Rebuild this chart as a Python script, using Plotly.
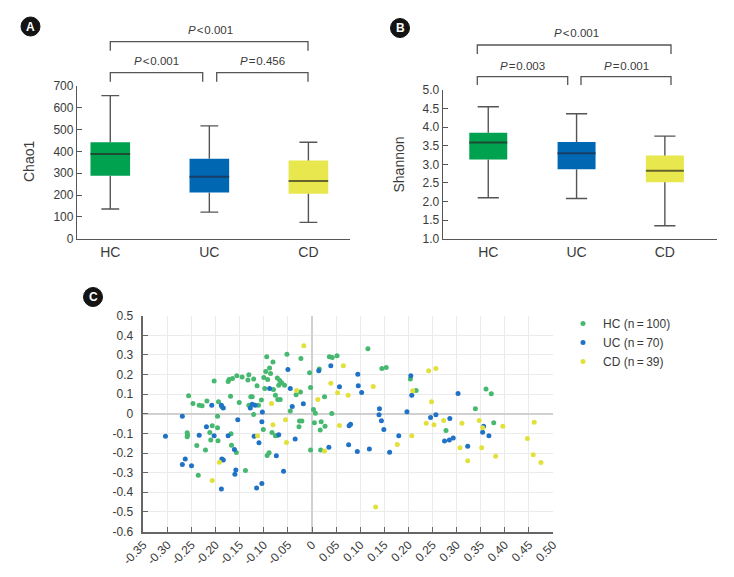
import plotly.graph_objects as go

W, H = 734, 577

# ---------------- data ----------------
groups = ["HC", "UC", "CD"]

# Panel A: Chao1 box statistics
chao_lower = [136, 122, 75]
chao_q1 = [289, 212, 206]
chao_median = [388, 284, 264]
chao_q3 = [442, 367, 359]
chao_upper = [656, 517, 442]

# Panel B: Shannon box statistics
shan_lower = [2.10, 2.08, 1.35]
shan_q1 = [3.13, 2.87, 2.52]
shan_median = [3.59, 3.30, 2.83]
shan_q3 = [3.85, 3.60, 3.24]
shan_upper = [4.55, 4.36, 3.76]

p_chao = ["P<0.001", "P<0.001", "P=0.456"]      # top, left, right
p_shan = ["P<0.001", "P=0.003", "P=0.001"]

# Panel C: PCoA scatter
hc_x = [-0.256, -0.247, -0.234, -0.228, -0.218, -0.203, -0.194, -0.196, -0.187, -0.172,
        -0.174, -0.169, -0.165, -0.156, -0.145, -0.131, -0.133, -0.121, -0.127, -0.124,
        -0.131, -0.121, -0.114, -0.105, -0.100, -0.098, -0.094, -0.096, -0.092, -0.088,
        -0.086, -0.081, -0.080, -0.076, -0.072, -0.069, -0.067, -0.063, -0.071, -0.066,
        -0.057, -0.052, -0.045, -0.033, -0.024, -0.023, -0.026, -0.021, -0.027, -0.005,
        -0.003, 0.003, 0.007, 0.015, 0.019, 0.017, 0.027, 0.018, -0.003, 0.026,
        0.036, 0.042, 0.052, 0.041, -0.093, -0.089, -0.083, -0.076, -0.072, -0.101,
        -0.259, -0.259, -0.258, -0.239, -0.236, -0.221, -0.212, -0.207, -0.196, -0.210,
        -0.195, -0.168, -0.167, -0.157, -0.138, 0.116, 0.145, 0.154, 0.204, 0.216,
        0.339, 0.361, 0.372, 0.377, 0.278, 0.005, -0.151, -0.111]
hc_y = [0.092, 0.053, 0.043, 0.041, 0.065, 0.167, 0.061, -0.012, 0.036, 0.175,
        0.165, 0.090, 0.180, 0.194, 0.187, 0.199, 0.172, 0.177, 0.087, 0.087,
        0.044, -0.003, 0.143, 0.070, 0.185, 0.129, 0.291, 0.216, 0.175, 0.233,
        0.206, 0.264, 0.124, 0.094, 0.182, 0.145, 0.170, 0.158, 0.073, 0.073,
        0.145, 0.304, 0.014, 0.097, 0.111, 0.282, -0.037, -0.037, -0.066, 0.209,
        0.134, 0.022, 0.003, 0.228, -0.041, -0.082, -0.063, -0.185, -0.185, 0.087,
        0.291, 0.287, 0.296, 0.002, -0.213, -0.199, -0.095, -0.112, -0.111, -0.080,
        -0.097, -0.117, -0.108, -0.162, -0.313, -0.184, -0.095, -0.061, -0.071, -0.134,
        -0.138, -0.102, -0.160, -0.197, -0.289, 0.332, 0.231, 0.236, 0.177, 0.119,
        0.026, 0.126, 0.102, -0.046, -0.085, -0.046, 0.058, 0.044]

uc_x = [-0.304, -0.269, -0.263, -0.269, -0.250, -0.234, -0.208, -0.188, -0.184, -0.219,
        -0.203, -0.174, -0.154, -0.161, -0.187, -0.184, -0.158, -0.160, -0.188, -0.128,
        -0.124, -0.118, -0.103, -0.104, -0.120, -0.110, -0.074, -0.088, -0.069, -0.050,
        -0.045, -0.041, -0.018, -0.035, -0.059, 0.039, 0.014, 0.057, 0.077, 0.076,
        -0.115, -0.104, 0.080, 0.095, 0.096, 0.103, 0.140, 0.139, 0.144, 0.149,
        0.094, 0.119, 0.161, 0.180, 0.205, 0.207, 0.197, 0.246, 0.257, 0.286,
        0.303, 0.275, 0.285, 0.293, 0.323, 0.356, 0.354, 0.367, 0.035]
uc_y = [-0.114, -0.012, -0.230, -0.259, -0.265, -0.109, 0.043, 0.043, 0.029, -0.066,
        -0.112, -0.112, -0.031, -0.182, -0.231, -0.236, -0.287, -0.308, -0.383, 0.029,
        0.049, 0.044, 0.009, -0.041, -0.114, -0.148, -0.214, 0.129, -0.107, 0.226,
        0.129, 0.037, 0.051, -0.128, -0.293, 0.245, 0.220, 0.138, -0.061, -0.158,
        -0.378, -0.355, -0.053, 0.201, 0.143, 0.109, 0.026, -0.005, -0.036, -0.080,
        -0.192, -0.180, -0.196, -0.112, 0.194, 0.095, 0.010, -0.019, -0.005, -0.024,
        0.104, -0.139, -0.133, -0.124, -0.165, -0.063, -0.094, -0.112, -0.170]

cd_x = [-0.017, -0.032, -0.084, -0.081, -0.055, -0.053, -0.113, -0.192, -0.207, 0.012,
        0.039, 0.065, 0.053, 0.075, 0.057, 0.026, 0.132, 0.127, 0.209, 0.242,
        0.257, 0.248, 0.207, 0.177, 0.237, 0.253, 0.273, 0.311, 0.347, 0.354,
        0.396, 0.461, 0.307, 0.323, 0.352, 0.381, 0.447, 0.459, 0.475]
cd_y = [0.347, 0.119, 0.053, -0.056, -0.031, -0.146, -0.112, -0.247, -0.340, 0.073,
        0.156, 0.245, 0.107, 0.094, -0.060, -0.190, -0.475, 0.139, 0.117, 0.219,
        0.231, 0.061, -0.112, -0.156, -0.048, -0.056, -0.034, -0.048, -0.034, -0.071,
        -0.063, -0.043, -0.173, -0.240, -0.173, -0.216, -0.126, -0.209, -0.248]

legend_names = ["HC (n\u2009=\u2009100)", "UC (n\u2009=\u200970)", "CD (n\u2009=\u200939)"]

x_ticks_c = [-0.35, -0.30, -0.25, -0.20, -0.15, -0.10, -0.05, 0, 0.05, 0.10,
             0.15, 0.20, 0.25, 0.30, 0.35, 0.40, 0.45, 0.50]
x_ticktext_c = ["-0.35", "-0.30", "-0.25", "-0.20", "-0.15", "-0.10", "-0.05", "0", "0.05", "0.10",
                "0.15", "0.20", "0.25", "0.30", "0.35", "0.40", "0.45", "0.50"]
y_ticks_c = [0.5, 0.4, 0.3, 0.2, 0.1, 0, -0.1, -0.2, -0.3, -0.4, -0.5, -0.6]
y_ticktext_c = ["0.5", "0.4", "0.3", "0.2", "0.1", "0", "-0.1", "-0.2", "-0.3", "-0.4", "-0.5", "-0.6"]

# ---------------- styles ----------------
box_fill = ["#00a14f", "#0067b2", "#e8e74d"]
median_col = ["#1f4a33", "#183e66", "#66652c"]
dot_col = ["#46b86f", "#1f72c6", "#e2e13c"]
NARROW = "Liberation Sans Narrow, Arial Narrow, Liberation Sans, Arial, sans-serif"
REG = "Liberation Sans, Arial, sans-serif"
AX = "#555555"
TXT = "#3a3a3a"


def X(px):
    return px / W


def Y(py):
    return 1 - py / H


fig = go.Figure()


def add_boxes(xa, ya, lower, q1, med, q3, upper, bw, cap):
    idx = list(range(len(groups)))
    fig.add_trace(go.Bar(x=idx, base=q1, y=[b - a for a, b in zip(q1, q3)], width=bw,
                         marker=dict(color=box_fill, line=dict(width=0)),
                         xaxis=xa, yaxis=ya, showlegend=False, hoverinfo="skip"))
    wx, wy = [], []
    for i in idx:
        wx += [i, i, None, i, i, None, i - cap, i + cap, None, i - cap, i + cap, None]
        wy += [lower[i], q1[i], None, q3[i], upper[i], None,
               lower[i], lower[i], None, upper[i], upper[i], None]
    fig.add_trace(go.Scatter(x=wx, y=wy, mode="lines", line=dict(color=AX, width=1.4),
                             xaxis=xa, yaxis=ya, showlegend=False, hoverinfo="skip"))
    for i in idx:
        fig.add_trace(go.Scatter(x=[i - bw / 2, i + bw / 2], y=[med[i], med[i]], mode="lines",
                                 line=dict(color=median_col[i], width=2),
                                 xaxis=xa, yaxis=ya, showlegend=False, hoverinfo="skip"))


add_boxes("x", "y", chao_lower, chao_q1, chao_median, chao_q3, chao_upper, 0.40, 0.09)
add_boxes("x2", "y2", shan_lower, shan_q1, shan_median, shan_q3, shan_upper, 0.43, 0.12)

for xs, ys, name, c in zip([hc_x, uc_x, cd_x], [hc_y, uc_y, cd_y], legend_names, dot_col):
    fig.add_trace(go.Scatter(x=xs, y=ys, mode="markers", name=name,
                             marker=dict(color=c, size=5, line=dict(width=0)),
                             xaxis="x3", yaxis="y3"))

# ---------------- axes ----------------
cat_axis = dict(tickvals=[0, 1, 2], ticktext=groups, showline=True, linecolor=AX, linewidth=1.3,
                ticks="", showgrid=False, zeroline=False, automargin=False,
                tickfont=dict(family=NARROW, size=14, color=TXT))
val_axis = dict(showline=True, linecolor=AX, linewidth=1.3, ticks="inside", ticklen=5,
                tickcolor=AX, tickwidth=1.3, showgrid=False, zeroline=False, automargin=False,
                tickfont=dict(family=NARROW, size=12, color=TXT))

fig.update_layout(
    xaxis=dict(cat_axis, domain=[X(77), X(350)], range=[-0.336, 2.42], anchor="y"),
    yaxis=dict(val_axis, domain=[Y(238.7), Y(86)], range=[0, 700], dtick=100, anchor="x"),
    xaxis2=dict(cat_axis, domain=[X(442.7), X(716.7)], range=[-0.516, 2.587], anchor="y2"),
    yaxis2=dict(val_axis, domain=[Y(238.7), Y(90)], range=[1, 5], dtick=0.5, tickformat=".1f",
                anchor="x2"),
    xaxis3=dict(domain=[X(143.3), X(553)], range=[-0.35, 0.5], anchor="y3", automargin=False,
                tickvals=x_ticks_c, ticktext=x_ticktext_c, tickangle=-45,
                showgrid=True, gridcolor="#ebebeb", gridwidth=1,
                zeroline=True, zerolinecolor="#d0d0d0", zerolinewidth=2,
                showline=True, linecolor="#666666", linewidth=1.5,
                ticks="inside", ticklen=5, tickcolor="#666666",
                tickfont=dict(family=REG, size=12, color=TXT)),
    yaxis3=dict(domain=[Y(531.5), Y(315.7)], range=[-0.6, 0.5], anchor="x3", automargin=False,
                tickvals=y_ticks_c, ticktext=y_ticktext_c,
                showgrid=True, gridcolor="#ebebeb", gridwidth=1,
                zeroline=True, zerolinecolor="#d0d0d0", zerolinewidth=2,
                showline=True, linecolor="#666666", linewidth=1.5,
                ticks="inside", ticklen=5, tickcolor="#666666", ticklabelstandoff=6,
                tickfont=dict(family=REG, size=12, color=TXT)),
    width=W, height=H, margin=dict(l=0, r=0, t=0, b=0, autoexpand=False),
    paper_bgcolor="white", plot_bgcolor="white",
    font=dict(family=REG, color=TXT),
    showlegend=True,
    legend=dict(x=X(563), y=Y(309), xanchor="left", yanchor="top",
                bgcolor="rgba(0,0,0,0)", font=dict(family=REG, size=12, color=TXT),
                tracegroupgap=0, itemwidth=30),
)

# ---------------- annotations / brackets ----------------
shapes, annots = [], []


def bracket(x0, x1, ytop, ybot):
    shapes.append(dict(type="path", xref="paper", yref="paper",
                       path=f"M {X(x0)},{Y(ybot)} L {X(x0)},{Y(ytop)} L {X(x1)},{Y(ytop)} L {X(x1)},{Y(ybot)}",
                       line=dict(color=AX, width=1.3)))


def ptext(txt, x, y):
    t = txt.replace("P", "<i>P</i>").replace("<0", "\u200a&lt;\u200a0").replace("=", "\u200a=\u200a")
    annots.append(dict(text=t, x=X(x), y=Y(y), xref="paper", yref="paper", showarrow=False,
                       xanchor="center", yanchor="middle",
                       font=dict(family=NARROW, size=11.5, color=TXT)))


# panel A
bracket(110.3, 308, 41.7, 50.7)
bracket(110.3, 202.7, 72.7, 81.7)
bracket(216.7, 308, 72.7, 81.7)
ptext(p_chao[0], 210, 29.5)
ptext(p_chao[1], 156.7, 61.5)
ptext(p_chao[2], 262.3, 61.5)
# panel B
bracket(477.3, 671, 45, 54)
bracket(477.3, 567.7, 76.7, 85)
bracket(581, 671, 76.7, 85)
ptext(p_shan[0], 576, 33)
ptext(p_shan[1], 522.3, 65.5)
ptext(p_shan[2], 626.7, 65.5)

# axis titles
annots.append(dict(text="Chao1", x=X(29), y=Y(162), xref="paper", yref="paper", showarrow=False,
                   xanchor="center", yanchor="middle",
                   textangle=-90, font=dict(family=NARROW, size=14, color=TXT)))
annots.append(dict(text="Shannon", x=X(398.5), y=Y(165), xref="paper", yref="paper", showarrow=False,
                   xanchor="center", yanchor="middle",
                   textangle=-90, font=dict(family=NARROW, size=14, color=TXT)))

# panel badges
for letter, cx, cy in [("A", 30.5, 26.5), ("B", 400, 28), ("C", 93, 297)]:
    r = 9.5
    shapes.append(dict(type="circle", xref="paper", yref="paper",
                       x0=X(cx - r), x1=X(cx + r), y0=Y(cy + r), y1=Y(cy - r),
                       fillcolor="#141414", line=dict(color="#141414", width=1)))
    annots.append(dict(text=f"<b>{letter}</b>", x=X(cx), y=Y(cy), xref="paper", yref="paper",
                       showarrow=False, xanchor="center", yanchor="middle",
                       font=dict(family=REG, size=12, color="white")))

fig.update_layout(shapes=shapes, annotations=annots)
fig.write_html("out.html", config={"displayModeBar": False},
               post_script="document.body.style.margin='0';document.body.style.overflow='hidden';")
